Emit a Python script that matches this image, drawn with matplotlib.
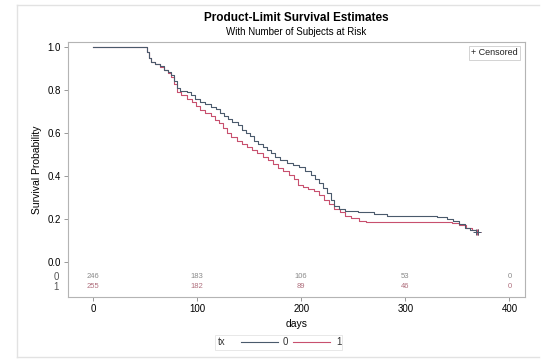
import matplotlib
matplotlib.use('Agg')
import matplotlib.pyplot as plt
from matplotlib.lines import Line2D
from matplotlib.patches import Rectangle

plt.rcParams['font.family'] = ['Liberation Sans', 'DejaVu Sans']

COLORS = {'0': '#4A5A6C', '1': '#C8506E'}

# Kaplan-Meier step estimates
t0 = [0, 52, 54, 56, 60, 64, 68, 72, 75, 78, 81, 84, 90, 94, 98, 103, 108, 113, 118, 122,
      126, 130, 134, 139, 143, 147, 151, 155, 159, 163, 167, 171, 175, 180, 186, 192, 198,
      204, 209, 213, 217, 221, 225, 229, 232, 236, 242, 255, 270, 282, 330, 340, 346, 352,
      357, 362, 368, 370]
s0 = [1.0, 0.975, 0.95, 0.93, 0.92, 0.91, 0.895, 0.885, 0.87, 0.84, 0.81, 0.795, 0.79, 0.775,
      0.76, 0.745, 0.735, 0.72, 0.71, 0.695, 0.68, 0.665, 0.65, 0.635, 0.615, 0.60, 0.585,
      0.565, 0.55, 0.535, 0.52, 0.505, 0.49, 0.475, 0.46, 0.45, 0.44, 0.425, 0.405, 0.385,
      0.365, 0.345, 0.32, 0.29, 0.26, 0.245, 0.235, 0.23, 0.225, 0.215, 0.21, 0.20, 0.19,
      0.175, 0.16, 0.15, 0.14, 0.14]

t1 = [0, 52, 54, 56, 60, 64, 68, 72, 75, 78, 81, 85, 90, 95, 99, 103, 108, 113, 117, 121,
      125, 129, 133, 138, 143, 148, 153, 158, 163, 168, 173, 178, 183, 188, 193, 197, 202,
      207, 212, 217, 222, 227, 232, 237, 242, 248, 256, 262, 345, 352, 358, 364, 369, 370]
s1 = [1.0, 0.975, 0.95, 0.93, 0.92, 0.905, 0.895, 0.88, 0.86, 0.83, 0.79, 0.775, 0.76, 0.745,
      0.725, 0.705, 0.695, 0.68, 0.66, 0.645, 0.625, 0.60, 0.58, 0.565, 0.55, 0.535, 0.52,
      0.505, 0.49, 0.475, 0.455, 0.435, 0.425, 0.405, 0.385, 0.36, 0.35, 0.34, 0.33, 0.31,
      0.29, 0.27, 0.245, 0.23, 0.215, 0.205, 0.19, 0.185, 0.18, 0.17, 0.16, 0.15, 0.14, 0.14]

# censored observations at the tail
cens_t0 = [368, 370]
cens_s0 = [0.14, 0.14]
cens_t1 = [369, 370]
cens_s1 = [0.14, 0.14]

# subjects at risk table
risk_times = [0, 100, 200, 300, 400]
risk_0 = [246, 183, 106, 53, 0]
risk_1 = [255, 182, 89, 46, 0]

x_ticks = [0, 100, 200, 300, 400]
y_ticks = [0.0, 0.2, 0.4, 0.6, 0.8, 1.0]
groups = ['0', '1']


def px(x, y):
    """pixel position -> figure fraction"""
    return x / 559, 1 - y / 363


def main():
    fig = plt.figure(figsize=(5.59, 3.63), dpi=100)
    ax = fig.add_axes([0.1216, 0.182, 0.8176, 0.702])

    # outer graph frame
    frame_kw = dict(color='#E2E2E2', linewidth=1.0, transform=fig.transFigure)
    fig.add_artist(Line2D([0.031, 0.031], [0.016, 0.986], **frame_kw))
    fig.add_artist(Line2D([0.031, 0.965], [0.986, 0.986], **frame_kw))
    fig.add_artist(Line2D([0.031, 0.965], [0.016, 0.016], **frame_kw))

    ax.step(t1, s1, where='post', color=COLORS['1'], linewidth=0.8)
    ax.step(t0, s0, where='post', color=COLORS['0'], linewidth=0.8)
    ax.plot(cens_t1, cens_s1, '+', color=COLORS['1'], markersize=4, markeredgewidth=0.7)
    ax.plot(cens_t0, cens_s0, '+', color=COLORS['0'], markersize=4, markeredgewidth=0.7)

    ax.set_xlim(-24, 415)
    ax.set_ylim(-0.163, 1.023)
    ax.set_xticks(x_ticks)
    ax.set_yticks(y_ticks)
    ax.set_yticklabels([f'{v:.1f}' for v in y_ticks])
    ax.tick_params(labelsize=7, length=3, width=0.6, color='#888888', pad=2)
    for sp in ax.spines.values():
        sp.set_color('#B4B4B4')
        sp.set_linewidth(0.8)

    ax.set_ylabel('Survival Probability', fontsize=7.5, labelpad=4)
    ax.set_xlabel('days', fontsize=7.5, labelpad=4)

    # at-risk rows
    for t, n0, n1 in zip(risk_times, risk_0, risk_1):
        ax.text(t, -0.069, str(n0), ha='center', va='center', fontsize=5.5, color='#8A8A8A')
        ax.text(t, -0.115, str(n1), ha='center', va='center', fontsize=5.5, color='#B0707E')
    ax.text(-0.02, -0.069, groups[0], transform=ax.get_yaxis_transform(), ha='right',
            va='center', fontsize=7, color='#555555')
    ax.text(-0.02, -0.115, groups[1], transform=ax.get_yaxis_transform(), ha='right',
            va='center', fontsize=7, color='#555555')

    # censored inset
    ax.text(0.985, 0.975, '+ Censored', transform=ax.transAxes, ha='right', va='top',
            fontsize=6.5, color='#222222',
            bbox=dict(boxstyle='square,pad=0.25', facecolor='white', edgecolor='#CCCCCC',
                      linewidth=0.6))

    # titles
    fig.text(0.5305, 0.95, 'Product-Limit Survival Estimates', ha='center', va='center',
             fontsize=8.5, fontweight='bold')
    fig.text(0.5305, 0.913, 'With Number of Subjects at Risk', ha='center', va='center',
             fontsize=7)

    # group legend, drawn by hand so the title sits on the same row
    x0, y0 = px(215, 335)
    x1, y1 = px(342, 350)
    fig.add_artist(Rectangle((x0, y1), x1 - x0, y0 - y1, transform=fig.transFigure,
                             facecolor='white', edgecolor='#E4E4E4', linewidth=0.6))
    ly = px(0, 342)[1]
    fig.text(px(218, 0)[0], ly, 'tx', ha='left', va='center', fontsize=7, color='#333333')
    for g, (la, lb, tx) in zip(groups, [(241, 278, 283), (293, 330, 336)]):
        fig.add_artist(Line2D([px(la, 0)[0], px(lb, 0)[0]], [ly, ly], color=COLORS[g],
                              linewidth=0.8, transform=fig.transFigure))
        fig.text(px(tx, 0)[0], ly, g, ha='left', va='center', fontsize=7, color='#333333')

    fig.savefig('out.png', dpi=100)
    plt.close(fig)


if __name__ == '__main__':
    main()
